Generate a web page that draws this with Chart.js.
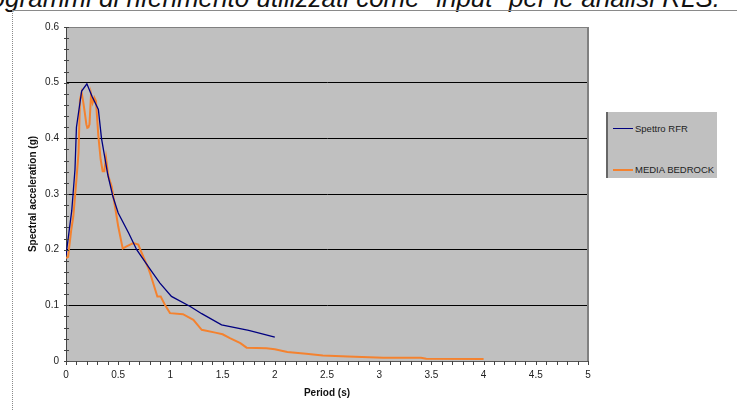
<!DOCTYPE html>
<html>
<head>
<meta charset="utf-8">
<script src="https://cdn.jsdelivr.net/npm/chart.js@4"></script>
<style>
  html, body { margin: 0; padding: 0; background: #fff; overflow: hidden; }
  body { width: 737px; height: 410px; position: relative; font-family: Arial, "Liberation Sans", sans-serif; }
  .caption {
    position: absolute; right: 17px; top: -15px;
    font-size: 26px; line-height: 26px; font-style: italic; white-space: nowrap; color: #111;
  }
  .frame { position: absolute; left: 12px; top: 10px; right: 0; bottom: 0;
    border-top: 1px solid #8a8a8a; border-left: 1px dotted #8a8a8a; }
  #wrap { position: absolute; left: 0; top: 0; width: 737px; height: 410px; }
  .legend {
    position: absolute; left: 606px; top: 112px; width: 109px; height: 66px;
    background: #c0c0c0; border-left: 2px solid #666; font-size: 9.5px; color: #222;
  }
  .legend .item { position: absolute; left: 5px; display: flex; align-items: center; }
  .legend .swatch { width: 20px; height: 0; margin-right: 2px; }
</style>
</head>
<body>
<div class="caption">Accelerogrammi di riferimento utilizzati come "input" per le analisi RLS.</div>
<div class="frame"></div>
<div id="wrap"><canvas id="chart" width="737" height="410"></canvas></div>
<div class="legend">
  <div class="item" style="top:11px"><span class="swatch" style="border-top:1.5px solid #000080"></span>Spettro RFR</div>
  <div class="item" style="top:52px"><span class="swatch" style="border-top:2px solid #f4822f"></span>MEDIA BEDROCK</div>
</div>
<script>
// Spettro RFR (blue)
const rfrPeriod = [0, 0.055, 0.086, 0.1, 0.15, 0.2, 0.25, 0.31, 0.34, 0.4, 0.45, 0.5, 0.6, 0.677, 0.805, 0.9, 1.01, 1.19, 1.3, 1.49, 1.75, 2.0];
const rfrAccel  = [0.19, 0.27, 0.344, 0.42, 0.485, 0.498, 0.475, 0.452, 0.4, 0.335, 0.295, 0.266, 0.23, 0.2, 0.165, 0.14, 0.116, 0.098, 0.085, 0.065, 0.055, 0.043];

// MEDIA BEDROCK (orange)
const bedrockPeriod = [0, 0.02, 0.05, 0.07, 0.1, 0.12, 0.134, 0.15, 0.166, 0.18, 0.195, 0.204, 0.215, 0.225, 0.24, 0.255, 0.271, 0.287, 0.31, 0.332, 0.351, 0.367, 0.383, 0.405, 0.437, 0.469, 0.5, 0.543, 0.58, 0.645, 0.693, 0.725, 0.788, 0.805, 0.875, 0.907, 0.95, 0.996, 1.12, 1.22, 1.3, 1.43, 1.5, 1.57, 1.67, 1.73, 1.92, 2.0, 2.12, 2.3, 2.46, 2.7, 3.04, 3.4, 3.45, 4.0];
const bedrockAccel  = [0.185, 0.187, 0.235, 0.26, 0.326, 0.374, 0.47, 0.482, 0.464, 0.446, 0.425, 0.419, 0.42, 0.425, 0.479, 0.464, 0.473, 0.467, 0.404, 0.362, 0.341, 0.341, 0.365, 0.332, 0.314, 0.278, 0.242, 0.202, 0.206, 0.212, 0.209, 0.194, 0.167, 0.158, 0.116, 0.116, 0.1, 0.086, 0.084, 0.074, 0.056, 0.051, 0.048, 0.041, 0.032, 0.024, 0.023, 0.021, 0.016, 0.013, 0.010, 0.008, 0.006, 0.006, 0.004, 0.0036];

// axis ranges
const periodMax = 5, periodStep = 0.5;
const accelMax = 0.6, accelStep = 0.1;

const toPoints = (xs, ys) => xs.map((x, i) => ({ x: x, y: ys[i] }));
const fmt = v => String(Number(v.toFixed(2)));

// grey plot area, frame lines and minor ticks like the Excel original
const plotDecor = {
  id: 'plotDecor',
  beforeDraw(chart) {
    const { ctx, chartArea: a } = chart;
    ctx.save();
    ctx.fillStyle = '#c0c0c0';
    ctx.fillRect(a.left, a.top, a.right - a.left, a.bottom - a.top);
    ctx.restore();
  },
  afterDraw(chart) {
    const { ctx, chartArea: a, scales } = chart;
    ctx.save();
    ctx.strokeStyle = '#808080';
    ctx.lineWidth = 1;
    ctx.beginPath();
    ctx.moveTo(a.left, a.top + 0.5); ctx.lineTo(a.right, a.top + 0.5);
    ctx.stroke();
    ctx.lineWidth = 2;
    ctx.beginPath();
    ctx.moveTo(a.right, a.top); ctx.lineTo(a.right, a.bottom);
    ctx.stroke();
    // minor ticks
    ctx.strokeStyle = '#444';
    ctx.lineWidth = 1;
    ctx.beginPath();
    for (let v = 0; v <= accelMax + 1e-9; v += 0.02) {
      const y = Math.round(scales.y.getPixelForValue(v)) + 0.5;
      ctx.moveTo(a.left - 2, y); ctx.lineTo(a.left + 3, y);
    }
    for (let v = 0; v <= periodMax + 1e-9; v += 0.1) {
      const x = Math.round(scales.x.getPixelForValue(v)) + 0.5;
      ctx.moveTo(x, a.bottom); ctx.lineTo(x, a.bottom + 4);
    }
    ctx.stroke();
    ctx.restore();
  }
};

document.addEventListener('DOMContentLoaded', function() {
  const ctx = document.getElementById('chart').getContext('2d');

  new Chart(ctx, {
    type: 'line',
    data: {
      datasets: [
        {
          label: 'Spettro RFR',
          data: toPoints(rfrPeriod, rfrAccel),
          borderColor: '#000080',
          borderWidth: 1.3,
          pointRadius: 0,
          tension: 0
        },
        {
          label: 'MEDIA BEDROCK',
          data: toPoints(bedrockPeriod, bedrockAccel),
          borderColor: '#f4822f',
          borderWidth: 2,
          pointRadius: 0,
          tension: 0
        }
      ]
    },
    options: {
      responsive: false,
      animation: false,
      layout: { padding: { left: 0, top: 27, right: 149, bottom: 0 } },
      plugins: {
        legend: { display: false }, // HTML legend box
        tooltip: { enabled: false }
      },
      scales: {
        x: {
          type: 'linear',
          min: 0,
          max: periodMax,
          afterFit: s => { s.height = 49; },
          ticks: {
            stepSize: periodStep,
            callback: v => fmt(v),
            color: '#222',
            font: { family: 'Arial', size: 10 },
            padding: 8,
            maxRotation: 0
          },
          grid: { display: false, drawTicks: false },
          border: { display: true, color: '#555', width: 1 },
          title: {
            display: true,
            text: 'Period (s)',
            color: '#111',
            font: { family: 'Arial', size: 10, weight: 'bold' },
            padding: { bottom: 11 }
          }
        },
        y: {
          min: 0,
          max: accelMax,
          afterFit: s => { s.width = 66; },
          ticks: {
            stepSize: accelStep,
            callback: v => fmt(v),
            color: '#222',
            font: { family: 'Arial', size: 10 },
            padding: 7
          },
          grid: {
            drawTicks: false,
            color: c => (c.tick.value > 0 && c.tick.value < accelMax - 1e-9) ? '#000' : 'rgba(0,0,0,0)',
            lineWidth: 1
          },
          border: { display: true, color: '#444', width: 1 },
          title: {
            display: true,
            text: 'Spectral acceleration (g)',
            color: '#111',
            font: { family: 'Arial', size: 10, weight: 'bold' },
            padding: { top: 27 }
          }
        }
      }
    },
    plugins: [plotDecor]
  });
});
</script>
</body>
</html>
